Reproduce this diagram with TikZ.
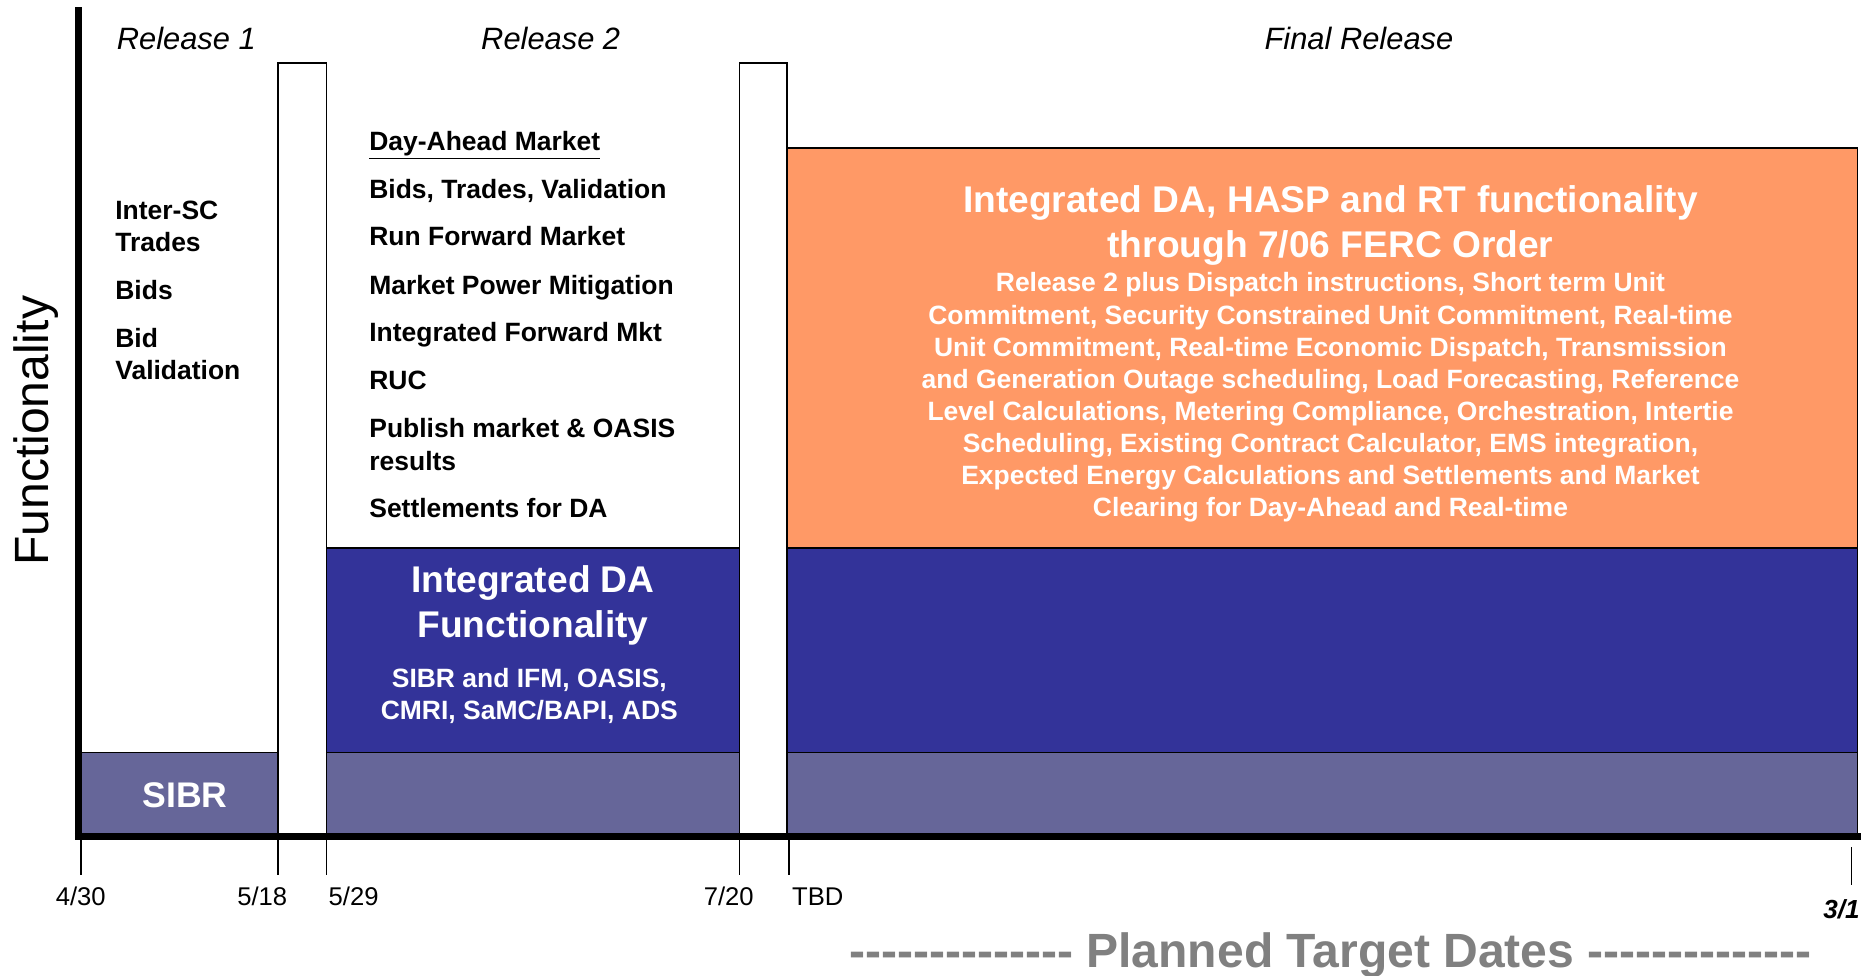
\documentclass[tikz,border=0pt]{standalone}
\usepackage{fontspec}
\setmainfont{Liberation Sans}
\definecolor{orng}{HTML}{FF9966}
\definecolor{dablue}{HTML}{333399}
\definecolor{sibr}{HTML}{666699}
\definecolor{plgray}{HTML}{808080}
\newcommand\hyph{-\kern0pt}
\newcommand\hyphrow{\hyph\hyph\hyph\hyph\hyph\hyph\hyph\hyph\hyph\hyph\hyph\hyph\hyph-}
\begin{document}
\begin{tikzpicture}[x=1pt,y=-1pt,
  band/.style={draw=black, line width=1.5pt},
  gapbox/.style={draw=black, fill=white, line width=1.5pt},
  axis/.style={line width=6pt, black},
  tick/.style={line width=1.5pt, black},
  item/.style={font=\fontsize{22.3}{27}\selectfont\bfseries, inner sep=0pt, anchor=base west},
  witem/.style={font=\fontsize{22.3}{27}\selectfont\bfseries, inner sep=0pt, anchor=base, text=white},
  wtitle/.style={font=\fontsize{31.3}{38}\selectfont\bfseries, inner sep=0pt, anchor=base, text=white},
  rel/.style={font=\fontsize{26}{30}\selectfont\itshape, inner sep=0pt, anchor=base},
  datelab/.style={font=\fontsize{21.6}{26}\selectfont, inner sep=0pt, anchor=base}
]
\useasboundingbox (0,0) rectangle (1568,822);
\fill[white] (0,0) rectangle (1568,822);

% bands
\fill[orng] (663,125) rectangle (1565,462);
\draw[band] (663,125) rectangle (1565,462);
\fill[dablue] (275,462) rectangle (623,634);
\fill[dablue] (663,462) rectangle (1565,634);
\fill[sibr] (68,634) rectangle (234,703);
\fill[sibr] (275,634) rectangle (623,703);
\fill[sibr] (663,634) rectangle (1565,703);
\draw[band] (68,634) -- (234,634);
\draw[band] (275,462) -- (623,462);
\draw[band] (275,634) -- (623,634);
\draw[band] (663,462) -- (1565,462);
\draw[band] (663,634) -- (1565,634);
\draw[band] (1565,125) -- (1565,703);

% gap boxes
\draw[gapbox] (234,53) rectangle (275,703);
\draw[gapbox] (623,53) rectangle (663,703);

% axes
\draw[axis] (66,6) -- (66,708);
\draw[axis] (63,705) -- (1568,705);

% ticks
\draw[tick] (68,708) -- (68,737);
\draw[tick] (234,708) -- (234,737);
\draw[tick] (275,708) -- (275,737);
\draw[tick] (623,708) -- (623,737);
\draw[tick] (665,708) -- (665,737);
\draw[tick] (1560,714) -- (1560,746);

% axis title
\node[font=\fontsize{40.5}{48}\selectfont, inner sep=0pt, anchor=base, rotate=90] (func) at (41,363) {Functionality};

% release titles
\node[rel] (rel1) at (157,42) {Release 1};
\node[rel] (rel2) at (464,42) {Release 2};
\node[rel] (relf) at (1145,42) {Final Release};

% release 1 items
\node[item] (a1) at (97,185) {Inter-SC};
\node[item] (a2) at (97,212) {Trades};
\node[item] (a3) at (97,252) {Bids};
\node[item] (a4) at (97,293) {Bid};
\node[item] (a5) at (97,320) {Validation};

% release 2 items
\node[item] (b1) at (311,127) {\underline{Day-Ahead Market}};
\node[item] (b2) at (311,167) {Bids, Trades, Validation};
\node[item] (b3) at (311,207) {Run Forward Market};
\node[item] (b4) at (311,248) {Market Power Mitigation};
\node[item] (b5) at (311,288) {Integrated Forward Mkt};
\node[item] (b6) at (311,328) {RUC};
\node[item] (b7) at (311,369) {Publish market \& OASIS};
\node[item] (b8) at (311,396) {results};
\node[item] (b9) at (311,436) {Settlements for DA};

% SIBR
\node[font=\fontsize{30}{36}\selectfont\bfseries, text=white, inner sep=0pt, anchor=base] (sibr) at (156,680) {SIBR};

% Integrated DA
\node[wtitle] (da1) at (449,499) {Integrated DA};
\node[wtitle] (da2) at (449,537) {Functionality};
\node[witem] (da3) at (446,579) {SIBR and IFM, OASIS,};
\node[witem] (da4) at (446,606) {CMRI, SaMC/BAPI, ADS};

% Final release
\node[wtitle] (f1) at (1121,179) {Integrated DA, HASP and RT functionality};
\node[wtitle] (f2) at (1121,217) {through 7/06 FERC Order};
\node[witem] (g1) at (1121,246) {Release 2 plus Dispatch instructions, Short term Unit};
\node[witem] (g2) at (1121,273) {Commitment, Security Constrained Unit Commitment, Real-time};
\node[witem] (g3) at (1121,300) {Unit Commitment, Real-time Economic Dispatch, Transmission};
\node[witem] (g4) at (1121,327) {and Generation Outage scheduling, Load Forecasting, Reference};
\node[witem] (g5) at (1121,354) {Level Calculations, Metering Compliance, Orchestration, Intertie};
\node[witem] (g6) at (1121,381) {Scheduling, Existing Contract Calculator, EMS integration,};
\node[witem] (g7) at (1121,408) {Expected Energy Calculations and Settlements and Market};
\node[witem] (g8) at (1121,435) {Clearing for Day-Ahead and Real-time};

% dates
\node[datelab] (d1) at (68,763) {4/30};
\node[datelab] (d2) at (221,763) {5/18};
\node[datelab] (d3) at (298,763) {5/29};
\node[datelab] (d4) at (614,763) {7/20};
\node[datelab] (d5) at (689,763) {TBD};
\node[font=\fontsize{22}{26}\selectfont\bfseries\itshape, inner sep=0pt, anchor=base east] (d6) at (1567,774) {3/1};

\node[font=\fontsize{40.5}{48}\selectfont\bfseries, text=plgray, inner sep=0pt, anchor=base] (planned) at (1121,815) {\hyphrow{} Planned Target Dates \hyphrow};
\end{tikzpicture}
\end{document}
